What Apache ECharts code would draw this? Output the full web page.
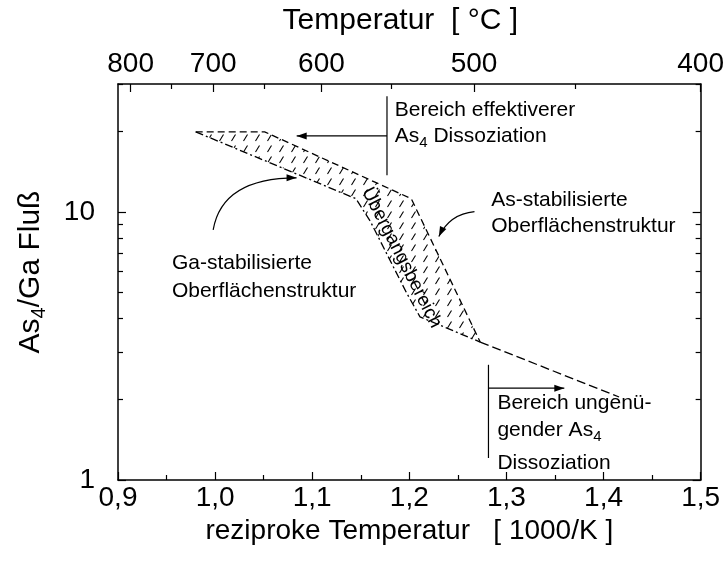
<!DOCTYPE html>
<html>
<head>
<meta charset="utf-8">
<script src="https://cdn.jsdelivr.net/npm/echarts@6/dist/echarts.min.js"></script>
<style>
  html, body { margin: 0; padding: 0; background: #fff; }
  #chart { width: 727px; height: 564px; }
</style>
</head>
<body>
<div id="chart"></div>
<script>
// Reciprocal temperature axis (1000/K)
const xMin = 0.9, xMax = 1.5;
// As4/Ga flux, logarithmic axis
const yMin = 1, yMax = 30;
const yLabelValues = [1, 10];
const yMinorValues = [2, 3, 4, 5, 6, 7, 8, 9, 20, 30];
// Temperature scale on top (°C) and where its ticks sit on the 1000/K axis
const tempLabels = ['800', '700', '600', '500', '400'];
const tempLabelPos = [0.913, 0.998, 1.1095, 1.2666, 1.5];
const tempMinorPos = [0.955, 1.0505, 1.181, 1.3705];

// Transition region: upper (dashed) and lower (dash-dot) boundaries
const upperX = [0.980, 1.051, 1.202, 1.273];
const upperY = [19.9, 19.9, 11.2, 3.27];
const lowerX = [0.980, 1.145, 1.160, 1.197, 1.211, 1.273];
const lowerY = [19.9, 11.2, 9.2, 5.0, 4.06, 3.27];
// Common boundary below the transition region
const tailX = [1.273, 1.416];
const tailY = [3.27, 2.04];

const FONT = 'Arial, "Liberation Sans", Helvetica, sans-serif';
const AXIS_FS = 28;
const NOTE_FS = 21;
const zip = (xs, ys) => xs.map((x, i) => [x, ys[i]]);

function hatchPattern() {
  const c = document.createElement('canvas');
  c.width = 12; c.height = 11;
  const g = c.getContext('2d');
  g.strokeStyle = '#000';
  g.lineWidth = 1.1;
  g.beginPath();
  g.moveTo(3.5, 9);
  g.lineTo(7.5, 2.5);
  g.stroke();
  return c;
}
const hatch = hatchPattern();

const axisLineStyle = { color: '#000', width: 1.5 };
const tickStyle = { color: '#000', width: 1.2 };
const axisText = { fontSize: AXIS_FS, color: '#000', fontFamily: FONT };

const chart = echarts.init(document.getElementById('chart'), null, { renderer: 'canvas' });

chart.setOption({
  animation: false,
  backgroundColor: '#fff',
  textStyle: { fontFamily: FONT, color: '#000' },
  grid: { left: 118, right: 25, top: 84, bottom: 84, containLabel: false },
  xAxis: [
    {
      type: 'value', position: 'bottom', min: xMin, max: xMax, interval: 0.1,
      axisLine: { onZero: false, lineStyle: axisLineStyle },
      axisTick: { inside: true, length: 8, lineStyle: tickStyle },
      minorTick: { show: true, splitNumber: 2, length: 5, lineStyle: tickStyle },
      splitLine: { show: false },
      axisLabel: Object.assign({ margin: 4, formatter: v => v.toFixed(1).replace('.', ',') }, axisText),
      name: 'reziproke Temperatur   [ 1000/K ]',
      nameLocation: 'middle', nameGap: 31,
      nameTextStyle: axisText
    },
    {
      type: 'value', position: 'top', min: xMin, max: xMax,
      axisLine: { onZero: false, lineStyle: axisLineStyle },
      axisTick: { inside: true, length: 8, lineStyle: tickStyle, customValues: tempLabelPos },
      splitLine: { show: false },
      axisLabel: Object.assign({
        margin: 6,
        customValues: tempLabelPos,
        formatter: (v, i) => tempLabels[tempLabelPos.indexOf(v)] ?? tempLabels[i]
      }, axisText),
      name: 'Temperatur  [ °C ]',
      nameLocation: 'middle', nameGap: 48,
      nameTextStyle: { fontSize: 30, color: '#000', fontFamily: FONT, padding: [0, 18, 0, 0] }
    },
    {
      type: 'value', position: 'top', min: xMin, max: xMax,
      axisLine: { show: false, onZero: false },
      axisTick: { inside: true, length: 5, lineStyle: tickStyle, customValues: tempMinorPos },
      axisLabel: { show: false },
      splitLine: { show: false }
    }
  ],
  yAxis: [
    {
      type: 'log', logBase: 10, position: 'left', min: yMin, max: yMax,
      axisLine: { onZero: false, lineStyle: axisLineStyle },
      axisTick: { inside: true, length: 8, lineStyle: tickStyle, customValues: yLabelValues },
      axisLabel: Object.assign({ margin: 23, customValues: yLabelValues }, axisText),
      splitLine: { show: false }
    },
    {
      type: 'log', logBase: 10, position: 'left', min: yMin, max: yMax,
      axisLine: { show: false, onZero: false },
      axisTick: { inside: true, length: 5, lineStyle: tickStyle, customValues: yMinorValues },
      axisLabel: { show: false },
      splitLine: { show: false }
    },
    {
      type: 'log', logBase: 10, position: 'right', min: yMin, max: yMax,
      axisLine: { onZero: false, lineStyle: axisLineStyle },
      axisTick: { inside: true, length: 8, lineStyle: tickStyle, customValues: yLabelValues },
      axisLabel: { show: false },
      splitLine: { show: false }
    },
    {
      type: 'log', logBase: 10, position: 'right', min: yMin, max: yMax,
      axisLine: { show: false, onZero: false },
      axisTick: { inside: true, length: 5, lineStyle: tickStyle, customValues: yMinorValues },
      axisLabel: { show: false },
      splitLine: { show: false }
    }
  ],
  series: [
    {
      // hatched transition region between the two boundaries
      type: 'custom', xAxisIndex: 0, yAxisIndex: 0, silent: true,
      data: [[upperX[0], upperY[0]]],
      renderItem: (params, api) => {
        const pts = zip(upperX, upperY).concat(zip(lowerX, lowerY).reverse())
          .map(p => api.coord(p));
        return {
          type: 'polygon',
          shape: { points: pts },
          style: { fill: { image: hatch, repeat: 'repeat' }, stroke: null }
        };
      }
    },
    {
      type: 'line', xAxisIndex: 0, yAxisIndex: 0, symbol: 'none', silent: true,
      data: zip(upperX, upperY),
      lineStyle: { color: '#000', width: 1.3, type: [7, 4] }
    },
    {
      type: 'line', xAxisIndex: 0, yAxisIndex: 0, symbol: 'none', silent: true,
      data: zip(lowerX, lowerY),
      lineStyle: { color: '#000', width: 1.3, type: [8, 3, 2, 3] }
    },
    {
      type: 'line', xAxisIndex: 0, yAxisIndex: 0, symbol: 'none', silent: true,
      data: zip(tailX, tailY),
      lineStyle: { color: '#000', width: 1.3, type: [9, 4] }
    }
  ]
});

// ---- annotations, anchored in data coordinates ----
const P = (x, y) => chart.convertToPixel({ xAxisIndex: 0, yAxisIndex: 0 }, [x, y]);
const rich = {
  n: { fontSize: NOTE_FS, fontFamily: FONT, color: '#000' },
  s: { fontSize: 15, fontFamily: FONT, color: '#000', padding: [13, 0, 0, 0] },
  r: { fontSize: 19, fontFamily: FONT, color: '#000' }
};

function text(x, y, str, opts) {
  const p = P(x, y);
  return Object.assign({
    type: 'text', x: p[0], y: p[1], silent: true,
    style: {
      text: str, rich: rich, fill: '#000',
      textAlign: 'left', textVerticalAlign: 'middle'
    }
  }, opts || {});
}
function seg(a, b) {
  const p = P(a[0], a[1]), q = P(b[0], b[1]);
  return { type: 'line', silent: true, shape: { x1: p[0], y1: p[1], x2: q[0], y2: q[1] },
           style: { stroke: '#000', lineWidth: 1.2 } };
}
function head(tip, from, len, half) {
  const dx = tip[0] - from[0], dy = tip[1] - from[1];
  const d = Math.hypot(dx, dy), ux = dx / d, uy = dy / d;
  const bx = tip[0] - ux * len, by = tip[1] - uy * len;
  return { type: 'polygon', silent: true,
    shape: { points: [tip, [bx - uy * half, by + ux * half], [bx + uy * half, by - ux * half]] },
    style: { fill: '#000' } };
}
function arrow(a, b) {
  const p = P(a[0], a[1]), q = P(b[0], b[1]);
  return [
    { type: 'line', silent: true, shape: { x1: p[0], y1: p[1], x2: q[0], y2: q[1] },
      style: { stroke: '#000', lineWidth: 1.2 } },
    head(q, p, 10, 3.5)
  ];
}
function curvedArrow(a, c, b) {
  const p = P(a[0], a[1]), k = P(c[0], c[1]), q = P(b[0], b[1]);
  return [
    { type: 'bezierCurve', silent: true,
      shape: { x1: p[0], y1: p[1], cpx1: k[0], cpy1: k[1], x2: q[0], y2: q[1] },
      style: { stroke: '#000', lineWidth: 1.2, fill: null } },
    head(q, k, 10, 3.5)
  ];
}

const yTitlePos = [31, 272];

chart.setOption({
  graphic: [
    // upper bracket: more effective As4 dissociation
    seg([1.177, 27.0], [1.177, 13.7]),
    ...arrow([1.177, 19.2], [1.084, 19.2]),
    text(1.185, 24.0, '{n|Bereich effektiverer}'),
    text(1.185, 19.1, '{n|As}{s|4}{n| Dissoziation}'),

    // Ga-stabilised surface
    text(0.9555, 6.45, '{n|Ga-stabilisierte}'),
    text(0.9555, 5.04, '{n|Oberflächenstruktur}'),
    ...curvedArrow([0.998, 8.57], [1.0073, 13.4], [1.0839, 13.4]),

    // As-stabilised surface
    text(1.2843, 11.09, '{n|As-stabilisierte}'),
    text(1.2843, 8.81, '{n|Oberflächenstruktur}'),
    ...curvedArrow([1.2671, 10.03], [1.2416, 9.83], [1.2304, 8.09]),

    // transition region label, along the band
    text(1.192, 6.75, '', { rotation: -63 * Math.PI / 180,
      style: { text: '{r|Übergangsbereich}', rich: rich, fill: '#000',
               textAlign: 'center', textVerticalAlign: 'middle' } }),

    // lower bracket: insufficient As4 dissociation
    seg([1.2815, 2.69], [1.2815, 1.208]),
    ...arrow([1.2815, 2.20], [1.3596, 2.20]),
    text(1.2907, 1.94, '{n|Bereich ungenü-}'),
    text(1.2907, 1.537, '{n|gender As}{s|4}'),
    text(1.2907, 1.157, '{n|Dissoziation}'),

    // y axis title
    {
      type: 'text', x: yTitlePos[0], y: yTitlePos[1], rotation: Math.PI / 2, silent: true,
      style: {
        text: '{t|As}{ts|4}{t|/Ga Fluß}',
        rich: {
          t: { fontSize: 30, fontFamily: FONT, color: '#000' },
          ts: { fontSize: 20, fontFamily: FONT, color: '#000', padding: [17, 0, 0, 0] }
        },
        textAlign: 'center', textVerticalAlign: 'middle'
      }
    }
  ]
});
</script>
</body>
</html>
